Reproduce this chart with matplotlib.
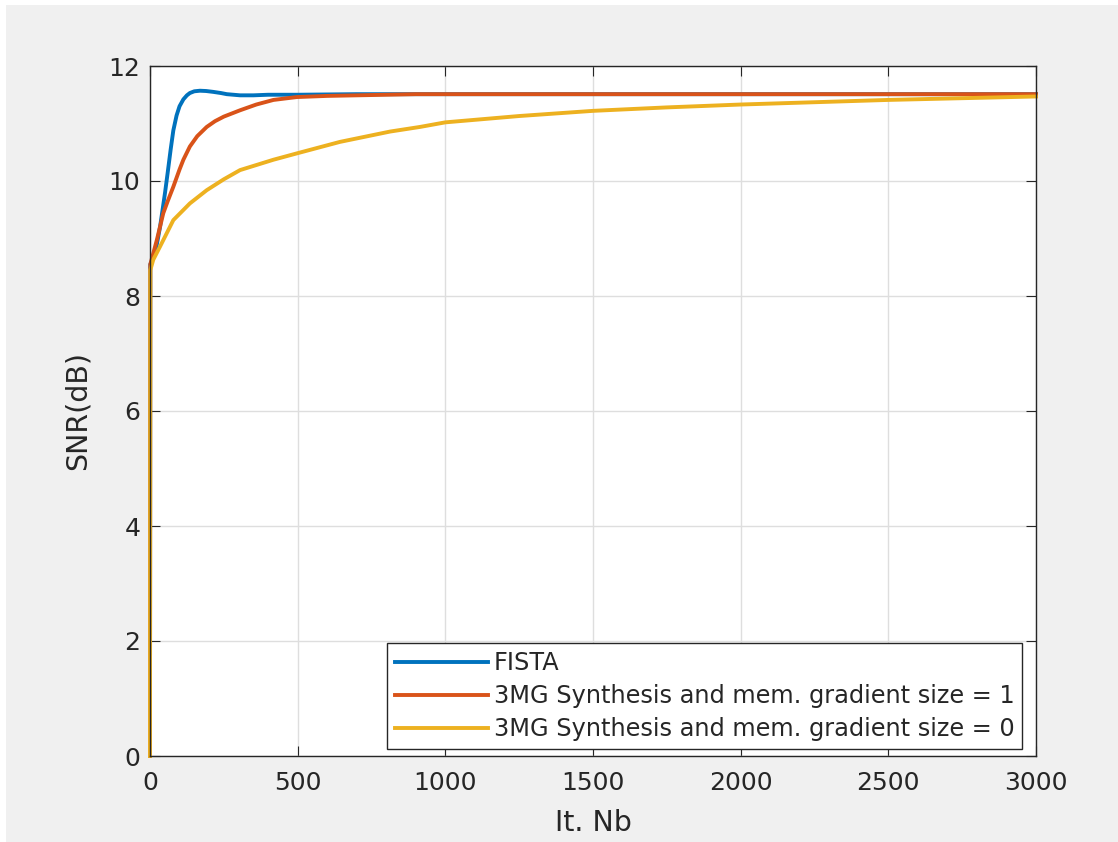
import matplotlib.pyplot as plt
from matplotlib.patches import Rectangle

# iteration number / SNR (dB)
fista_it = [0, 1, 10, 17, 25, 34, 42, 51, 60, 70, 79, 90, 100, 113, 125, 135, 150, 169, 190,
            214, 240, 260, 305, 350, 400, 500, 700, 1000, 1500, 2000, 2500, 3000]
fista_snr = [0, 8.55, 8.65, 8.74, 8.95, 9.2, 9.48, 9.8, 10.15, 10.55, 10.88, 11.14, 11.3,
             11.42, 11.49, 11.53, 11.56, 11.57, 11.565, 11.55, 11.53, 11.51, 11.49, 11.49,
             11.5, 11.5, 11.51, 11.51, 11.51, 11.51, 11.51, 11.51]

mg1_it = [0, 1, 11, 23, 45, 60, 79, 100, 113, 135, 160, 192, 220, 250, 305, 360, 418, 497,
          600, 700, 900, 1500, 2000, 2500, 3000]
mg1_snr = [0, 8.55, 8.74, 8.97, 9.44, 9.65, 9.9, 10.2, 10.37, 10.6, 10.78, 10.94, 11.04,
           11.12, 11.23, 11.33, 11.41, 11.46, 11.48, 11.49, 11.51, 11.51, 11.51, 11.51, 11.51]

mg0_it = [0, 1, 11, 34, 79, 135, 192, 250, 305, 418, 497, 643, 813, 914, 1000, 1250, 1500,
          1750, 2000, 2500, 3000]
mg0_snr = [0, 8.45, 8.63, 8.86, 9.32, 9.61, 9.84, 10.03, 10.19, 10.37, 10.48, 10.68, 10.86,
           10.94, 11.02, 11.13, 11.22, 11.28, 11.33, 11.41, 11.47]

labels = ['FISTA',
          '3MG Synthesis and mem. gradient size = 1',
          '3MG Synthesis and mem. gradient size = 0']

txt = '#262626'
fig = plt.figure(figsize=(11.18, 8.42), dpi=100, facecolor='white')
fig.patches.append(Rectangle((6 / 1118, 0), 1, 837 / 842, transform=fig.transFigure,
                             facecolor='#f0f0f0', edgecolor='none', zorder=-10))
ax = fig.add_axes([150 / 1118, 86 / 842, 886 / 1118, 690 / 842])

ax.plot(fista_it, fista_snr, color='#0072BD', lw=2.8, label=labels[0], clip_on=False)
ax.plot(mg1_it, mg1_snr, color='#D95319', lw=2.8, label=labels[1], clip_on=False)
ax.plot(mg0_it, mg0_snr, color='#EDB120', lw=2.8, label=labels[2], clip_on=False)

ax.set_xlim(0, 3000)
ax.set_ylim(0, 12)
ax.set_xticks(range(0, 3001, 500))
ax.set_yticks(range(0, 13, 2))
ax.grid(True, color='#dedede', lw=1)
ax.set_axisbelow(True)
ax.tick_params(direction='in', top=True, right=True, length=7, color=txt,
               labelcolor=txt, labelsize=18, pad=7)
ax.tick_params(axis='x', pad=11)
for s in ax.spines.values():
    s.set_color(txt)
    s.set_linewidth(1)

ax.set_xlabel('It. Nb', fontsize=20.5, color=txt, labelpad=10)
ax.set_ylabel('SNR(dB)', fontsize=20.5, color=txt, labelpad=12)

leg = ax.legend(loc='lower right', bbox_to_anchor=(0.9842, 0.0101), borderaxespad=0,
                fontsize=17.3, fancybox=False, framealpha=1, edgecolor=txt,
                handlelength=3.85, labelspacing=0.38, handletextpad=0.25, borderpad=0.32)
leg.get_frame().set_linewidth(1)
for t in leg.get_texts():
    t.set_color(txt)

fig.savefig('out.png', dpi=100, facecolor=fig.get_facecolor())
